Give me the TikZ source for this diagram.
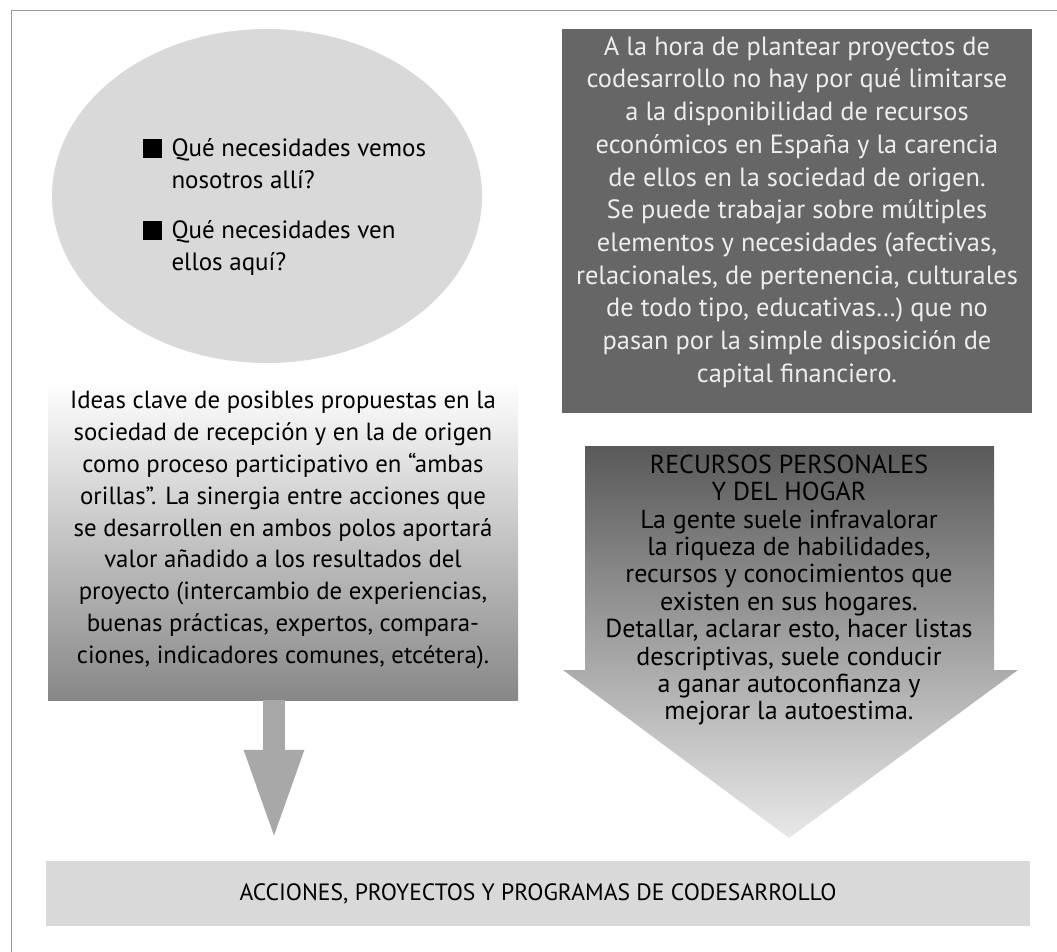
\documentclass[tikz,border=0pt]{standalone}
\usepackage{fontspec}
\setmainfont{PT Sans}
\usepackage{tikz}
\usetikzlibrary{positioning,calc,shapes.geometric,arrows.meta}
\definecolor{claro}{HTML}{D9D9D9}
\definecolor{oscuro}{HTML}{666666}
\definecolor{flecha}{HTML}{A8A8A8}
\definecolor{marco}{HTML}{999999}
\newcommand{\cuadro}{\rule[-1pt]{19pt}{19pt}}
\tikzset{
	grande/.style={align=center,font=\fontsize{24.8}{31.9}\selectfont},
	oscurotxt/.style={align=center,font=\fontsize{26.4}{32.7}\selectfont,text=white!93!black},
	chico/.style={align=center,font=\fontsize{26}{27.4}\selectfont},
}

\begin{document}
\begin{tikzpicture}[x=1pt,y=-1pt]
			\useasboundingbox (0,0) rectangle (1057,952);
			\draw[marco,line width=1.5pt] (11.5,952)--(11.5,10.5)--(1057,10.5);
			
			\node[ellipse,fill=claro,minimum width=430pt,minimum height=334pt,inner sep=0pt] (ell) at (267,196) {};
			\node[align=left,font=\fontsize{25}{32}\selectfont,anchor=north west] (preg) at (139,131) {%
				\begin{tabular}{@{}l@{\hspace{10pt}}l@{}}
					\cuadro & Qué necesidades vemos\\
					& nosotros allí?\\[18pt]
					\cuadro & Qué necesidades ven\\
					& ellos aquí?
				\end{tabular}};
			
			\node[fill=oscuro,minimum width=470pt,minimum height=384pt] (dark) at (797,221) {};
			\node[oscurotxt] (darktxt) at (797,212) {A la hora de plantear proyectos de\\
				codesarrollo no hay por qué limitarse\\
				a la disponibilidad de recursos\\
				económicos en España y la carencia\\
				de ellos en la sociedad de origen.\\
				Se puede trabajar sobre múltiples\\
				elementos y necesidades (afectivas,\\
				relacionales, de pertenencia, culturales\\
				de todo tipo, educativas…) que no\\
				pasan por la simple disposición de\\
				capital financiero.};
			
			\node[top color=white,bottom color=black!47,minimum width=470pt,minimum height=319pt] (ideas) at (283,540.5) {};
			\node[grande] (ideastxt) at (283,530) {Ideas clave de posibles propuestas en la\\
				sociedad de recepción y en la de origen\\
				como proceso participativo en “ambas\\
				orillas”. La sinergia entre acciones que\\
				se desarrollen en ambos polos aportará\\
				valor añadido a los resultados del\\
				proyecto (intercambio de experiencias,\\
				buenas prácticas, expertos, compara-\\
				ciones, indicadores comunes, etcétera).};
			
			\node[fill=claro,minimum width=984pt,minimum height=65pt,font=\fontsize{23.6}{28}\selectfont] (bar) at (538,893.5) {ACCIONES, PROYECTOS Y PROGRAMAS DE CODESARROLLO};
			
			\draw[flecha,line width=22pt,-{Triangle[width=53pt,length=93pt]},shorten >=18pt] ([xshift=-9pt]ideas.south)--([xshift=-9pt]ideas.south|-bar.north);
			
			\shade[top color=black!65,bottom color=black!9] (585,446)--(994,446)--(994,670)--(1018,670)--(789,838)--(563,670)--(585,670)--cycle;
			\node[chico] (recur) at (789,590) {RECURSOS PERSONALES\\
				Y DEL HOGAR\\
				La gente suele infravalorar\\
				la riqueza de habilidades,\\
				recursos y conocimientos que\\
				existen en sus hogares.\\
				Detallar, aclarar esto, hacer listas\\
				descriptivas, suele conducir\\
				a ganar autoconfianza y\\
				mejorar la autoestima.};
		\end{tikzpicture}
\end{document}
